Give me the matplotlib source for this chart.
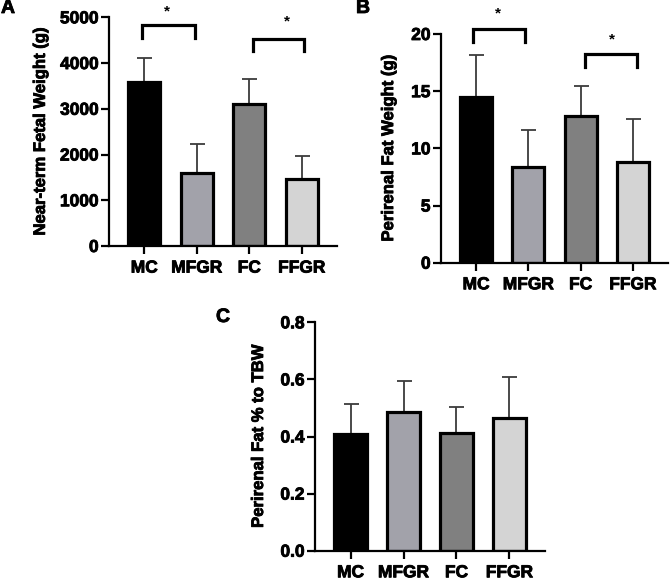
"""
three bar panels: fetal weight, perirenal fat weight, perirenal fat % to TBW
"""
import matplotlib
matplotlib.use("Agg")
import matplotlib.pyplot as plt
import matplotlib.patheffects as pe
import numpy as np

plt.rcParams['font.family'] = ['Liberation Sans', 'DejaVu Sans']
plt.rcParams['font.weight'] = 'bold'

groups = ['MC', 'MFGR', 'FC', 'FFGR']
bar_colors = ['#000000', '#a2a2aa', '#808080', '#d4d4d4']

#Panel A: near-term fetal weight (g)
fetal_mean = [3580, 1600, 3100, 1465]
fetal_sd = [520, 640, 555, 500]

#Panel B: perirenal fat weight (g)
fat_mean = [14.45, 8.33, 12.85, 8.83]
fat_sd = [3.7, 3.28, 2.6, 3.7]

#Panel C: perirenal fat % to TBW
pct_mean = [0.41, 0.485, 0.413, 0.465]
pct_sd = [0.104, 0.111, 0.089, 0.145]

#significance brackets: (x_left, x_right, y_bar, y_leg_end)
brackets_a = [(-0.05, 0.96, 4825, 4540), (2.08, 3.05, 4525, 4270)]
brackets_b = [(-0.06, 0.93, 20.42, 19.33), (2.09, 3.07, 18.26, 17.15)]
#stars: (x, y baseline)
stars_a = [(0.44, 5035), (2.72, 4816)]
stars_b = [(0.42, 21.43), (2.6, 19.2)]

fig = plt.figure(figsize=(6.71, 5.83), dpi=100)
W, H = 671, 583

#slight stroke so the bold text looks as heavy as in the original
heavy = [pe.withStroke(linewidth=0.6, foreground='black')]


def px_axes(left, top, right, bottom):
    """axes from pixel box"""
    return fig.add_axes([left / W, 1 - bottom / H, (right - left) / W, (bottom - top) / H])


def draw_panel(ax, means, sds, ymax, yticks, ylabel, label_x, fmt=None):
    x = np.arange(len(groups))
    ax.errorbar(x, means, yerr=[np.zeros(len(sds)), sds], fmt='none',
                ecolor='#3c3c3c', elinewidth=1.3, capsize=5.4, capthick=1.3, zorder=1)
    ax.bar(x, means, width=0.61, color=bar_colors, edgecolor='black',
           linewidth=2.3, zorder=2)
    ax.set_xlim(-0.67, 3.67)
    ax.set_ylim(0, ymax)
    ax.set_xticks(x)
    ax.set_xticklabels(groups)
    ax.set_yticks(yticks)
    if fmt:
        ax.set_yticklabels([fmt.format(t) for t in yticks])
    for lab in ax.get_yticklabels() + ax.get_xticklabels():
        lab.set_fontsize(12.5)
        lab.set_fontweight('bold')
        lab.set_path_effects(heavy)
    ax.set_ylabel(ylabel, fontsize=12, fontweight='bold', path_effects=heavy)
    ax.yaxis.set_label_coords(label_x, 0.5)
    for s in ['top', 'right']:
        ax.spines[s].set_visible(False)
    for s in ['left', 'bottom']:
        ax.spines[s].set_linewidth(1.6)
    ax.tick_params(axis='both', width=1.6, length=5.5, direction='out')
    ax.tick_params(axis='y', pad=2)
    ax.tick_params(axis='x', pad=5)


def draw_brackets(ax, brackets, stars):
    for x0, x1, yb, yl in brackets:
        ax.plot([x0, x0, x1, x1], [yl, yb, yb, yl], color='black', lw=2.3,
                clip_on=False, solid_joinstyle='miter')
    for xs, ys in stars:
        ax.text(xs, ys, '*', ha='center', va='baseline', fontsize=11,
                fontweight='bold', clip_on=False)


ax_a = px_axes(109, 17.3, 337, 246)
draw_panel(ax_a, fetal_mean, fetal_sd, 5000, [0, 1000, 2000, 3000, 4000, 5000],
           'Near-term Fetal Weight (g)', -0.268)
draw_brackets(ax_a, brackets_a, stars_a)

ax_b = px_axes(441, 34, 668, 262.7)
draw_panel(ax_b, fat_mean, fat_sd, 20, [0, 5, 10, 15, 20],
           'Perirenal Fat Weight (g)', -0.198)
draw_brackets(ax_b, brackets_b, stars_b)

ax_c = px_axes(315, 322.3, 545, 550.7)
draw_panel(ax_c, pct_mean, pct_sd, 0.8, [0, 0.2, 0.4, 0.6, 0.8],
           'Perirenal Fat % to TBW', -0.213, fmt='{:.1f}')

#panel letters
for lx, ly, letter in [(1, 0, 'A'), (356, 0, 'B'), (216, 309, 'C')]:
    fig.text(lx / W, 1 - ly / H, letter, fontsize=14, fontweight='bold',
             va='top', ha='left', path_effects=heavy)

plt.savefig('out.png', dpi=100)
